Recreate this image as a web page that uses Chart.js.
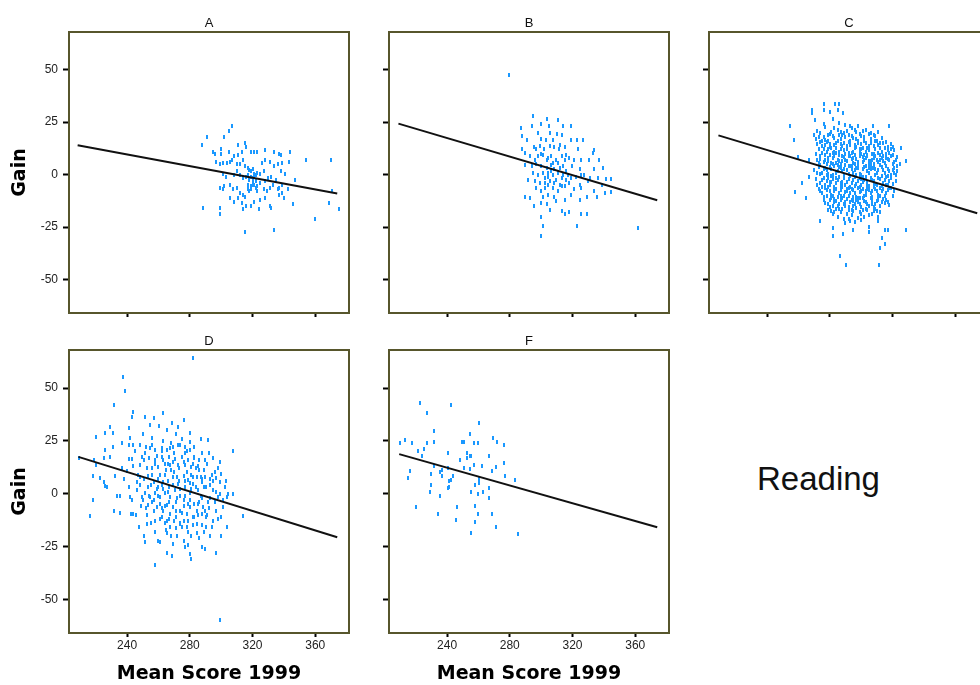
<!DOCTYPE html>
<html>
<head>
<meta charset="utf-8">
<title>Reading: Gain by Mean Score 1999</title>
<script src="https://cdn.jsdelivr.net/npm/chart.js@4.4.1/dist/chart.umd.min.js"></script>
<style>
  html, body { margin: 0; padding: 0; background: #fff; overflow: hidden; }
  body { width: 980px; height: 685px; position: relative; }
  canvas { position: absolute; }
  #reading { position: absolute; left: 757px; top: 460px; font: 33px/38px "Liberation Sans", Arial, sans-serif; color: #111; }
</style>
</head>
<body>
<canvas id="panelA"></canvas>
<canvas id="panelB"></canvas>
<canvas id="panelC"></canvas>
<canvas id="panelD"></canvas>
<canvas id="panelF"></canvas>
<div id="reading">Reading</div>
<script>
const gainTicks = [-50, -25, 0, 25, 50];
const scoreTicks = [240, 280, 320, 360];

// [mean score 1999, gain]
const pointsA = [
  [307,23],[305,21],[302,18],[291,18],[287.5,14],[295,11],[296,10],[300,12],[300,10],[311,14],[315,15],[316,13],[305,11],[308,9],[311,9.5],[313,11],[314,7],[319,11],[321,11],[323,11],[328,11.5],[334,11],[337,10],[338,9.5],[344,11],[354,7],[370,7],
  [297,6],[299,5],[301,5.5],[304,5.5],[305.5,6],[307,7],[310,5],[312,5],[315,4],[317,3],[318,2],[319,1.5],[320,2.5],[321,0.5],[323,1],[324.5,0.5],[327,1.5],[326,5.5],[328,7],[331,6],[334,4],[336,5],[339,5.5],[343.5,6],[338,1.5],[341,0.5],[347,-2.5],
  [301,0.5],[303,-1],[308,0],[310,1.5],[312,0],[314,-1.5],[316,-1],[318,-2.5],[320,-1.5],[322,-3],[324.5,-4],[328,-3],[330,-1.5],[332,-1],[335,-2.5],[339,-5],[342.5,-7],
  [299,-6.5],[301,-7],[302,-5.5],[305.5,-5],[307.5,-7],[310,-6.5],[312,-9],[314,-9.5],[315,-10.5],[317,-7],[319,-7],[320,-5],[322,-6.5],[323,-8],[327,-7],[329,-8],[331,-6.5],[333,-5],[336,-7],[337,-6.5],[339,-9],
  [305.5,-11],[308.5,-13],[311,-11],[313,-13.5],[314,-16.5],[316,-15],[319,-15],[321,-13],[324.5,-12],[328,-11],[331,-15],[332,-16],[337,-9.5],[340,-11],[345.5,-14],
  [288.5,-16],[299.5,-16],[299,-19],[324,-16.5],[369,-13.5],[375,-16.5],[360,-21],[315,-27.5],[334,-26.5],[370.5,-8],
  [317,0],[319,-1],[321,-1],[322,0],[320,-3],[321,-5],[319,-5.5],[317,-5],[323,-5.5],[318,-8]
];

const pointsB = [
  [279.5,47.5],
  [295,28],[304,26.5],[311,26],[300,24],[287,22],[294,23],[305,23],[314,23],[319,23],
  [298,20],[305.5,20],[310,19.5],[313,19],[288,18.5],[291,16.5],[300,17],[303,16.5],[307.5,16.5],[319,16.5],[323,16.5],[326.5,16.5],
  [287.5,12],[295.5,13],[297,12],[299,13.5],[302,12],[305.5,13.5],[308.5,13],[312,14],[315.5,13],[323.5,12],[334,11.5],[333,10.5],
  [289.5,10.5],[293,9],[296,7],[298,9],[301,9.5],[304.5,8],[306.5,9],[309.5,7],[313,9],[316,9.5],[318,8],[321,7],[325.5,7],[330.5,7],[337,7],
  [289.5,4.5],[294,4],[297,5],[300,4],[303.5,3],[306.5,4.5],[308.5,2.5],[312,3],[314,4],[316,1.5],[319.5,4],[324.5,2.5],[327.5,0],[334,2.5],[339.5,3],
  [295,1],[298,0],[301,1],[304.5,-1],[307.5,0],[311,1],[314,0],[317,0],[322.5,-1],[325.5,0],[331,-1.5],[336,-1.5],[341.5,-2],[344.5,-2],
  [291.5,-2.5],[296,-3],[299,-4],[302.5,-4],[305.5,-3],[308.5,-4],[312,-5],[315,-5.5],[318,-4],[324.5,-5],[330,-3],[338.5,-5],
  [297,-6.5],[300,-8],[302.5,-6.5],[304.5,-5],[307.5,-6.5],[311,-8],[313,-5.5],[321,-7],[325.5,-6.5],[334,-8],[344.5,-8.5],
  [290,-10.5],[293,-11],[301,-10.5],[304.5,-9.5],[308.5,-10.5],[315,-12],[319,-9.5],[324.5,-12],[329.5,-10.5],[335.5,-10.5],[340.5,-9],
  [295.5,-15],[300,-13.5],[303.5,-14],[305.5,-17],[309.5,-12.5],[313,-17.5],[315,-19],[317.5,-18],[325.5,-19],[329.5,-19],
  [300,-20],[301,-24.5],[323,-24.5],[300,-29.5],[362,-25.5],
  [300,10],[303.5,7],[307.5,5.5],[311,5.5],[304.5,1],[313,-1.5],[309.5,-2.5],[306.5,1.5],[316,-2.5],[302.5,-1.5],[319,-1.5],[311.5,12],[315,7]
];

const pointsC = [
  [276,33.5],[276,31],[283.5,33.5],[286,33.5],[285,31],[268.5,31],[268.5,29.5],[280,30],[282,26.5],[288.5,29.5],[270.5,26],[254.5,23],[276,24],[286,24.5],[293,23],[298,23],[307.5,23],[318,23],
  [257,16.5],[325.5,12.5],[328.5,6.5],[324.5,5],[266.5,7],[260,8.5],[262,-4],[258,-8.5],[265,-11],[266.5,-1],
  [274,-22],[282,-25.5],[282,-29.5],[288.5,-28.5],[295,-26.5],[305,-25],[305,-27.5],[311,-22],[315,-26.5],[317,-26.5],[313,-30],[312,-35],[315.5,-33],[328.5,-26.5],[286.5,-39],[290.5,-43],[311.5,-43],
  [272,21],[277,22.5],[281,20.5],[285,21.5],[289,20],[294,22],[297,20.5],[301,21],[305,19.5],[311,20.5],[270,19],[290,23.5],
  [271,17],[274,15.5],[276,18],[279,16],[282,18.5],[284,15],[287,17],[290,18],[292,15.5],[295,17.5],[298,16],[300,18.5],[303,15],[306,17],[309,16],[313,17.5],[316,15.5],[319,14.5],[288,19],[280,14.5],
  [273,12],[275,13.5],[278,11],[280,13],[282,10.5],[284,12.5],[286,11],[288,13.5],[290,10],[291,12],[293,14],[295,11],[297,13],[299,10.5],[301,12.5],[303,11],[305,13.5],[307,10],[309,12],[311,14],[313,11],[315,12.5],[318,10.5],[320,13],[277,14],[294,10.2],[300,14.5],
  [272,7],[274,9],[276,6],[279,8],[281,5.5],[283,9],[285,7],[287,5],[289,8.5],[291,6.5],[293,9],[295,5.5],[297,7.5],[299,9],[301,6],[303,8],[305,5],[307,7],[309,9],[311,6],[313,8],[315,5.5],[317,7.5],[319,9],[321,6],[323,8.5],[278,5],[286,9.5],[296,5],[304,9.5],
  [270,2],[273,3.5],[275,1],[277,3],[279,0.5],[281,2.5],[283,4],[285,1.5],[287,3],[289,0],[291,2],[293,4],[295,1],[297,3],[299,0.5],[301,2.5],[303,4],[305,1],[307,3],[309,0],[311,2],[313,3.5],[315,1],[317,2.5],[319,0],[321,3],[323,1.5],[282,0],[294,2.5],[306,4.5],
  [271,-2],[274,-4],[276,-1.5],[278,-3],[280,-5],[282,-2],[284,-4],[286,-1],[288,-3.5],[290,-5],[292,-2],[294,-4],[296,-1],[298,-3],[300,-5],[302,-2.5],[304,-4],[306,-1.5],[308,-3],[310,-5],[312,-2],[314,-4],[316,-1],[318,-3],[320,-4.5],[287,-5.5],[299,-1.5],
  [273,-7],[275,-9],[277,-6.5],[280,-8],[282,-10],[284,-7],[286,-9],[288,-6],[290,-8.5],[292,-10],[294,-7],[296,-9],[298,-6.5],[300,-8],[302,-10],[304,-7],[306,-9],[308,-6],[310,-8],[312,-10],[314,-7],[316,-9],[318,-6.5],[321,-8],[279,-6],[295,-10.5],
  [276,-12],[279,-14],[281,-11],[283,-13],[285,-15],[287,-12],[289,-14],[291,-11.5],[293,-13],[295,-15],[297,-12],[299,-14],[301,-11],[303,-13],[305,-15],[307,-12],[309,-14],[311,-11.5],[313,-13],[316,-12],[318,-14.5],
  [279,-17],[282,-19],[284,-16.5],[287,-18],[289,-21],[292,-17],[294,-19.5],[297,-16],[299,-18],[302,-20],[304,-17],[307,-19],[309,-16.5],[312,-18],[293,-22],[300,-21.5],
  [274,20],[279,19],[283,22],[287,20.5],[292,19],[296,21.5],[299,19.5],[303,21.5],[308,19],[275,16],
  [272,14.5],[276,12],[278,15.5],[281,12.5],[283,14],[285,16],[287,12],[289,15],[291,13.5],[293,16],[296,12.5],[298,15],[300,12],[302,16],[304,12.5],[306,15],[308,13.5],[310,16],[312,12.5],[314,15],[317,13],[321,11.5],
  [271,10],[274,7.5],[277,9.5],[279,6.5],[282,8],[284,10.5],[286,6.5],[288,9],[290,7],[292,10.5],[294,7.5],[296,9.5],[298,6],[300,10],[302,7],[304,9],[306,6.5],[308,10],[310,7],[312,9.5],[314,6.5],[316,10],[318,7],[320,9.5],[322,7],
  [272,1],[274,4.5],[276,2.5],[278,0],[280,3.5],[282,5],[284,1],[286,3.5],[288,1.5],[290,4.5],[292,0.5],[294,4],[296,2],[298,5],[300,0],[302,3.5],[304,1.5],[306,2.5],[308,5],[310,1],[312,4.5],[314,2],[316,4],[318,1.5],[320,5],[322,0],
  [272,-5],[275,-2.5],[277,-5],[279,-1.5],[281,-3.5],[283,-6],[285,-2.5],[287,-4],[289,-1.5],[291,-3.5],[293,-6],[295,-2.5],[297,-4.5],[299,-6],[301,-3.5],[303,-1],[305,-5.5],[307,-2.5],[309,-4.5],[311,-1.5],[313,-5.5],[315,-2.5],[317,-5],[319,-1.5],[322,-3],
  [274,-8],[276,-10.5],[278,-7.5],[281,-9.5],[283,-8],[285,-10.5],[287,-7.5],[289,-10],[291,-7],[293,-9],[295,-7.5],[297,-10.5],[299,-8.5],[301,-7],[303,-9.5],[305,-7.5],[307,-10.5],[309,-7],[311,-9.5],[313,-8],[315,-10],[317,-7.5],[320,-10],
  [277,-13.5],[280,-12],[282,-15],[284,-12.5],[286,-14],[288,-11],[290,-13],[292,-15.5],[294,-12],[296,-14],[298,-11],[300,-15.5],[302,-12.5],[304,-14],[306,-11],[308,-15.5],[310,-12.5],[312,-15],[314,-11.5],[317,-13],
  [281,-17.5],[285,-20],[288,-16.5],[291,-19],[295,-17.5],[298,-20.5],[301,-17],[305,-19.5],[308,-17.5],[311,-20],[296,-22.5],[290,-23],
  [273,18],[277,16.5],[280,19.5],[283,17.5],[286,19],[291,21],[294,18.5],[297,17],[302,18],[306,20],[309,18.5],[312,15],[275,10.5],[279,12],[283,11],[287,14.5],[289,11.5],[292,9],[296,14],[299,12],[302,9.5],[305,11.5],[308,8],[311,10.5],[314,9],[317,11.5],[319,12],
  [273,5.5],[277,7],[280,9.5],[284,5.5],[288,6.5],[292,4],[295,8],[298,3],[301,8.5],[305,6.5],[308,3],[312,7],[316,8],[320,2],[323,4],[274,0.5],[278,2],[281,-0.5],[285,4.5],[289,2.5],[293,-0.5],[297,0],[301,-1],[305,3],[309,2.5],[313,-0.5],[317,-0.5],[321,1],
  [275,-6],[280,-3.5],[284,-1.5],[288,-5],[292,-6.5],[296,-5.5],[300,-2],[304,-6],[308,-4.5],[312,-6.5],[316,-5],[319,-6.5],[278,-10],[283,-11.5],[287,-10],[291,-8],[295,-12.5],[299,-11],[303,-8],[307,-8],[311,-12],[315,-13.5],
  [280,-15.5],[286,-16.5],[290,-15],[294,-17],[298,-13],[303,-16.5],[307,-14],[310,-17.5],[283,-18],[300,-19],[292,-21]
];

const pointsD = [
  [282,64],[237.5,55],[239,48.5],[231.5,42],[243.5,38.5],[243,36.5],[251.5,36.5],[254.5,32.5],[257,36],[263,38],[268.5,33.5],[276,35],[272.5,31.5],[280,28.5],[280,24.5],
  [220,27],[226,28.5],[231,28.5],[229,31.5],[241.5,31],[242,26.5],[237,24],[231,22],[241,23],[244,23],[248.5,23],[256,26.5],[260.5,32],[265.5,30],[267.5,21.5],[291.5,25.5],[307.5,20],[295,17],
  [226,20.5],[229,17.5],[209.5,17],[219,16],[225,17],[241,16.5],[243,16.5],[249.5,17.5],[251.5,19],[254.5,21.5],[258,20.5],[262,21.5],[265.5,20.5],[269.5,22],[272.5,23],[277,22],[280,20.5],[282.5,17.5],
  [220.5,13.5],[218.5,8.5],[222.5,7.5],[225,5.5],[226,3.5],[227,3],[218.5,-3],[216.5,-10.5],
  [232.5,8.5],[237,12],[238,7],[240,10.5],[241,3],[242,-1.5],[243,-3],[233.5,-1],[235.5,-1],[231.5,-8],[235.5,-9],[242.5,-9.5],[244,-9.5],
  [246.5,5.5],[248.5,13.5],[250.5,16],[252.5,12],[253.5,8.5],[256,12],[258,16],[260,12.5],[262,17.5],[264.5,14],[266.5,17.5],[267.5,13.5],[270.5,16.5],[272.5,13.5],[275,17.5],[277,13.5],[279,16],[281,12.5],
  [246.5,1.5],[248.5,4],[249.5,-1.5],[251.5,0.5],[253.5,3],[254.5,-1.5],[257,5.5],[258,0.5],[260,3],[261,-1.5],[263,5.5],[264.5,0.5],[266.5,3],[267.5,-1.5],[269.5,8],[270.5,1.5],[272.5,4.5],[274,-1],[276,8.5],[277,3],[279,6.5],[280,0.5],[282,4.5],[284.5,8],[285.5,1.5],[287.5,5.5],[289.5,8],[290.5,3],[293,7],[297,7.5],[300,9.5],[302.5,3],[303.5,-1.5],[304.5,0],[298,-1.5],[299,5.5],[295,1.5],
  [253.5,-5.5],[256,-4],[259,-6.5],[261,-5],[263,-8],[265.5,-5.5],[267.5,-9.5],[269.5,-6.5],[271.5,-11],[274,-8],[276,-13],[278,-9.5],[280,-6.5],[282,-11],[284.5,-8],[285.5,-5],[287.5,-9.5],[288.5,-6.5],[290.5,-11],[291.5,-4],[284.5,-14.5],[287.5,-15],[290.5,-16],[278,-16],[274,-14.5],[271.5,-16.5],[265.5,-13],[262,-11],[258,-13],
  [252.5,-14.5],[247.5,-16],[250.5,-20],[251.5,-23],[260,-22.5],[261,-23],[265.5,-18.5],[267.5,-16],[265.5,-28],[268.5,-29.5],[258,-34],[276,-22.5],[277,-25.5],[279,-24.5],[280,-28.5],[281,-31],[284.5,-18.5],[287.5,-25.5],[289.5,-26],[297,-28],[300,-20],[303.5,-16],[307.5,0],[314,-10.5],[300,-11],[301,-6.5],[299.5,-60],
  [258,14],[261,9],[263,16],[266,6],[268,11],[270,19],[272,8],[274,2],[276,15],[278,10],[280,-3],[282,14],[284,3],[286,11],[288,-2],[290,16],[292,-7],[294,9],[296,-4],[298,12],
  [257,-3],[259,2],[262,-7],[264,9],[267,-12],[269,4],[271,-4],[273,12],[275,-9],[277,6],[279,-13],[281,9],[283,-5],[285,13],[287,-1],[289,11],[291,-10],[293,4],[295,-13],[297,1],
  [262,20],[268,24],[275,26],[283,22],[288,19],[265,-17],[272,-20],[279,-18],[286,-21],[254,17],[251,7],[249,-6],[253,-10],[256,23],[271,28],[277,-1],[283,-11],[260,-1],[266,1],[274,-14],
  [245,20],[247,9],[250,-3],[252,22],[255,4],[257,-8],[259,18],[261,-12],[263,2],[265,11],[267,-4],[269,15],[271,-8],[273,6],[275,-16],[277,19],[279,-5],[281,2],[283,17],[285,-10],[287,8],[289,-18],[291,14],[293,-2],[295,6],[297,-8],[299,15],[301,-3],[303,6],
  [246,-10],[248,8],[252,-7],[256,9],[258,-18],[262,4],[264,-6],[266,14],[268,-20],[270,10],[272,-2],[276,-6],[278,20],[280,5],[282,-15],[284,12],[286,-4],[288,7],[290,-8],[292,19],[294,-16],[296,10],[298,-12],
  [244,13],[250,28],[255,-14],[263,25],[269,-24],[274,23],[281,-20],[287,26],[293,-20],[299,0],[286,16],[264,-14],[254,-1],[276,-3],[282,8],[270,-13],[260,7],[289,3]
];

const pointsF = [
  [222.5,43],[242.5,42],[227.5,38],[260.5,33.5],[231.5,29.5],[210,24],[213.5,25.5],[217.5,24],[227.5,24],[231.5,24.5],[249.5,24.5],[250.5,24.5],[254.5,28],[257,24],[259.5,24],[269.5,26.5],[272,24.5],[276,23],
  [221.5,20],[225,21],[224,18],[240.5,19],[253,19],[254.5,18],[255.5,18],[253,17],[248,16],[267,18],[231.5,13],[216.5,10.5],[215,7.5],[230,9.5],[235.5,10],[236.5,8.5],[237,11],[240.5,12],[244,8.5],[250.5,12],[254.5,11.5],[257,13.5],[262,13],[268.5,10.5],[271,12.5],[276,14.5],[277,8.5],[283.5,6.5],[242.5,6.5],[241.5,6],
  [230,4],[229,1],[235.5,-1],[241,3],[240.5,2.5],[255.5,1],[258,4],[259.5,0],[260.5,7],[260.5,5],[263,1],[267,2.5],[267,-2],
  [220,-6.5],[234,-9.5],[246.5,-6.5],[245.5,-12.5],[258,-6],[259.5,-9.5],[258,-13.5],[268.5,-9.5],[271,-16],[255.5,-18.5],[285,-19]
];

// fitted line end points
const fitA = [[208.5,14],[374,-9]];
const fitB = [[209,24.3],[374,-12.2]];
const fitC = [[209,18.7],[374,-18.4]];
const fitD = [[209,17.4],[374,-20.7]];
const fitF = [[209.5,18.7],[374,-15.9]];

const panels = [
  { id: 'panelA', name: 'A', points: pointsA, fit: fitA, left: 0,   top: 10,  w: 355, h: 311, yw: 69, xh: 8,  labelY: true,  labelX: false },
  { id: 'panelB', name: 'B', points: pointsB, fit: fitB, left: 355, top: 10,  w: 320, h: 311, yw: 34, xh: 8,  labelY: false, labelX: false },
  { id: 'panelC', name: 'C', points: pointsC, fit: fitC, left: 675, top: 10,  w: 320, h: 311, yw: 34, xh: 8,  labelY: false, labelX: false },
  { id: 'panelD', name: 'D', points: pointsD, fit: fitD, left: 0,   top: 328, w: 355, h: 357, yw: 69, xh: 52, labelY: true,  labelX: true },
  { id: 'panelF', name: 'F', points: pointsF, fit: fitF, left: 355, top: 328, w: 320, h: 357, yw: 34, xh: 52, labelY: false, labelX: true }
];

// small blue dash used as point marker
const dot = document.createElement('canvas');
dot.width = 2;
dot.height = 4;
const dotCtx = dot.getContext('2d');
dotCtx.fillStyle = '#1a98ff';
dotCtx.fillRect(0, 0, 2, 4);

const framePlugin = {
  id: 'frame',
  afterDatasetsDraw(chart) {
    const { ctx, chartArea: a } = chart;
    ctx.save();
    ctx.strokeStyle = '#57562c';
    ctx.lineWidth = 2;
    ctx.strokeRect(a.left, a.top, a.right - a.left, a.bottom - a.top);
    ctx.restore();
  }
};

const tickFont = { family: 'Liberation Sans, Arial, sans-serif', size: 12 };
const axisTitleFont = { family: 'DejaVu Sans, sans-serif', size: 19, weight: 'bold' };

panels.forEach(p => {
  const canvas = document.getElementById(p.id);
  canvas.width = p.w;
  canvas.height = p.h;
  canvas.style.left = p.left + 'px';
  canvas.style.top = p.top + 'px';

  new Chart(canvas.getContext('2d'), {
    type: 'scatter',
    data: {
      datasets: [
        {
          data: p.fit,
          showLine: true,
          pointRadius: 0,
          borderColor: '#111',
          borderWidth: 2
        },
        {
          data: p.points,
          pointStyle: dot,
          pointRadius: 2,
          showLine: false
        }
      ]
    },
    options: {
      responsive: false,
      animation: false,
      events: [],
      layout: { padding: { top: 0, left: 0, bottom: 0, right: 6 }, autoPadding: false },
      plugins: {
        legend: { display: false },
        tooltip: { enabled: false },
        title: {
          display: true,
          text: p.name,
          fullSize: false,
          color: '#111',
          font: { family: 'Liberation Sans, Arial, sans-serif', size: 13, weight: 'normal', lineHeight: '15px' },
          padding: { top: 6, bottom: 1 }
        }
      },
      scales: {
        x: {
          type: 'linear',
          min: 203,
          max: 381.5,
          afterBuildTicks: s => { s.ticks = scoreTicks.map(v => ({ value: v })); },
          afterFit: s => { s.height = p.xh; s.paddingLeft = 0; s.paddingRight = 0; },
          border: { display: false },
          grid: { drawOnChartArea: false, drawTicks: true, tickLength: 4, tickWidth: 2, tickColor: '#000' },
          ticks: { display: p.labelX, font: tickFont, color: '#222', padding: 1, maxRotation: 0, autoSkip: false },
          title: { display: p.labelX, text: 'Mean Score 1999', font: axisTitleFont, color: '#000', padding: { top: 0, bottom: 0 } }
        },
        y: {
          type: 'linear',
          min: -66,
          max: 68,
          afterBuildTicks: s => { s.ticks = gainTicks.map(v => ({ value: v })); },
          afterFit: s => { s.width = p.yw; s.paddingTop = 0; s.paddingBottom = 0; },
          border: { display: false },
          grid: { drawOnChartArea: false, drawTicks: true, tickLength: 6, tickWidth: 2, tickColor: '#000' },
          ticks: { display: p.labelY, font: tickFont, color: '#222', padding: 5, autoSkip: false },
          title: { display: p.labelY, text: 'Gain', font: axisTitleFont, color: '#000', padding: { top: 9, bottom: 0 } }
        }
      }
    },
    plugins: [framePlugin]
  });
});
</script>
</body>
</html>
